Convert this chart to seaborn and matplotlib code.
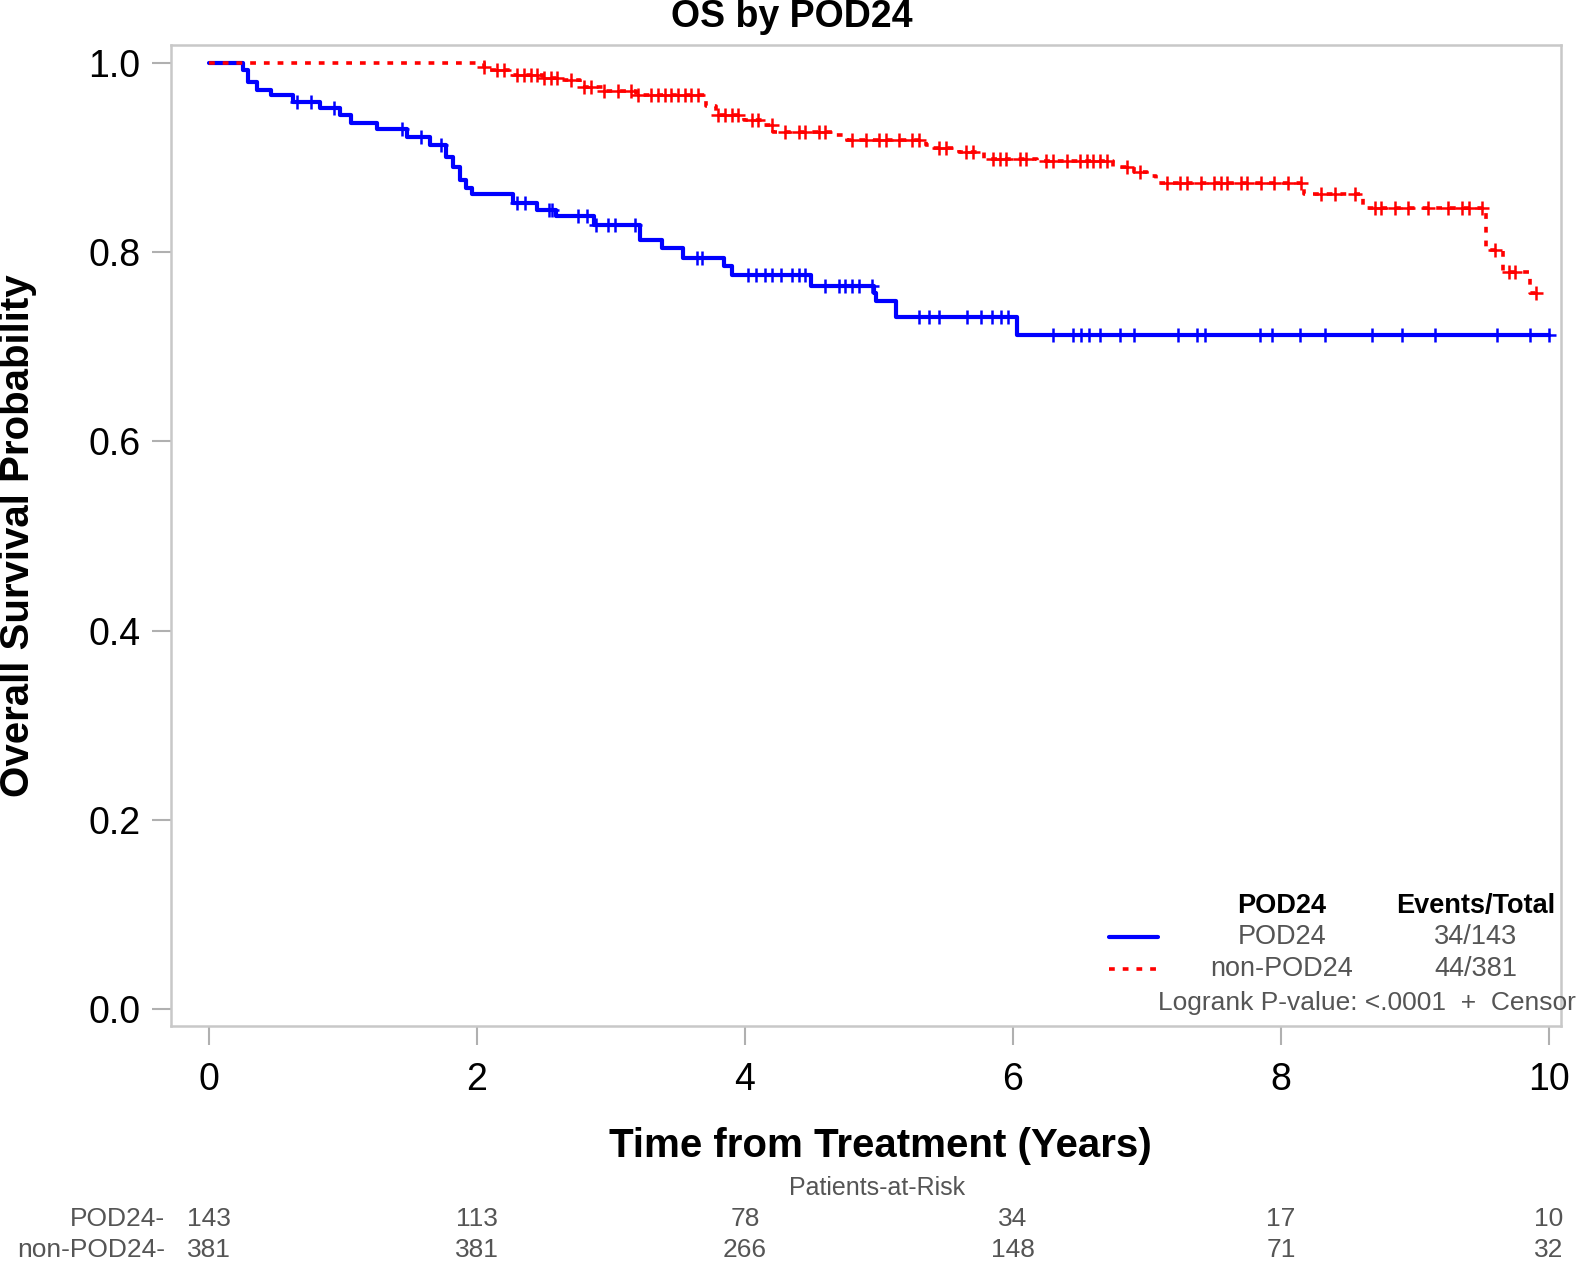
import numpy as np
import pandas as pd
import matplotlib
matplotlib.use("Agg")
import matplotlib.pyplot as plt
import matplotlib.transforms as mtransforms
import seaborn as sns

# ── Data ─────────────────────────────────────────────────────────────────────
groups = ["POD24", "non-POD24"]
events_total = ["34/143", "44/381"]

pod_event_t = [0.25, 0.29, 0.36, 0.46, 0.63, 0.83, 0.98, 1.06, 1.25, 1.48,
               1.65, 1.77, 1.82, 1.87, 1.92, 1.96, 2.27, 2.45, 2.59, 2.87,
               3.22, 3.38, 3.54, 3.84, 3.90, 4.49, 4.96, 4.98, 5.13, 6.03]
pod_surv = [0.993, 0.980, 0.971, 0.966, 0.959, 0.952, 0.945, 0.937, 0.930, 0.922,
            0.913, 0.901, 0.890, 0.876, 0.868, 0.861, 0.852, 0.845, 0.838, 0.829,
            0.813, 0.804, 0.794, 0.785, 0.776, 0.764, 0.757, 0.748, 0.732, 0.712]
pod_end = 10.0
pod_censor = [0.66, 0.76, 0.93, 1.44, 1.58, 1.73, 2.30, 2.36, 2.54, 2.56, 2.75,
              2.82, 2.89, 2.98, 3.03, 3.18, 3.64, 3.68, 4.02, 4.08, 4.15, 4.20,
              4.27, 4.35, 4.40, 4.45, 4.60, 4.70, 4.75, 4.80, 4.85, 4.95, 5.30,
              5.37, 5.45, 5.66, 5.76, 5.84, 5.91, 5.96, 6.30, 6.45, 6.51, 6.57,
              6.65, 6.80, 6.90, 7.23, 7.37, 7.43, 7.84, 7.93, 8.14, 8.33, 8.68,
              8.90, 9.15, 9.61, 9.86, 10.0]

non_event_t = [2.05, 2.10, 2.27, 2.49, 2.62, 2.77, 2.94, 3.19, 3.71, 3.78,
               3.99, 4.14, 4.21, 4.66, 4.76, 5.35, 5.40, 5.60, 5.78, 6.18,
               6.75, 6.90, 7.00, 7.07, 8.17, 8.61, 9.53, 9.66, 9.86]
non_surv = [0.996, 0.993, 0.987, 0.984, 0.982, 0.975, 0.970, 0.966, 0.954, 0.945,
            0.940, 0.934, 0.927, 0.924, 0.919, 0.913, 0.910, 0.906, 0.899, 0.896,
            0.890, 0.885, 0.880, 0.873, 0.861, 0.847, 0.802, 0.779, 0.757]
non_end = 9.92
non_censor = [2.05, 2.15, 2.20, 2.30, 2.35, 2.40, 2.45, 2.50, 2.55, 2.60, 2.70,
              2.80, 2.85, 2.95, 3.05, 3.15, 3.20, 3.30, 3.35, 3.40, 3.45, 3.50,
              3.55, 3.60, 3.65, 3.80, 3.85, 3.90, 3.95, 4.05, 4.10, 4.20, 4.30,
              4.40, 4.45, 4.55, 4.60, 4.80, 4.90, 5.00, 5.05, 5.15, 5.25, 5.30,
              5.45, 5.50, 5.65, 5.70, 5.85, 5.90, 5.95, 6.05, 6.10, 6.25, 6.30,
              6.40, 6.50, 6.55, 6.60, 6.65, 6.70, 6.85, 6.95, 7.15, 7.25, 7.30,
              7.40, 7.50, 7.55, 7.60, 7.70, 7.75, 7.85, 7.95, 8.05, 8.15, 8.30,
              8.40, 8.55, 8.70, 8.75, 8.85, 8.95, 9.10, 9.25, 9.35, 9.40, 9.50,
              9.60, 9.70, 9.75, 9.90]

risk_times = [0, 2, 4, 6, 8, 10]
pod_at_risk = [143, 113, 78, 34, 17, 10]
non_at_risk = [381, 381, 266, 148, 71, 32]


def step_frame(event_t, surv, end, name):
    t = [0.0] + list(event_t) + [end]
    s = [1.0] + list(surv) + [surv[-1]]
    return pd.DataFrame({"time": t, "surv": s, "group": name})


def censor_frame(event_t, surv, censor, name):
    t = np.array([0.0] + list(event_t))
    s = np.array([1.0] + list(surv))
    idx = np.searchsorted(t, censor, side="right") - 1
    return pd.DataFrame({"time": censor, "surv": s[idx], "group": name})


pod_df = step_frame(pod_event_t, pod_surv, pod_end, groups[0])
non_df = step_frame(non_event_t, non_surv, non_end, groups[1])
pod_c = censor_frame(pod_event_t, pod_surv, pod_censor, groups[0])
non_c = censor_frame(non_event_t, non_surv, non_censor, groups[1])

# ── Plot ─────────────────────────────────────────────────────────────────────
sns.set_style("ticks")
plt.rcParams["font.family"] = ["Liberation Sans", "DejaVu Sans"]
plt.rcParams["text.color"] = "black"

BLUE, RED, GRAY = "#0000ff", "#ff0000", "#555555"
DOTS = (0, (1.6, 2.2))

fig = plt.figure(figsize=(15.93, 12.62), dpi=100)
ax = fig.add_axes([171 / 1593, 1 - 1026 / 1262, 1390 / 1593, 981 / 1262])

sns.lineplot(data=pod_df, x="time", y="surv", color=BLUE, lw=3, sort=False,
             estimator=None, drawstyle="steps-post", ax=ax)
sns.scatterplot(data=pod_c, x="time", y="surv", color=BLUE, marker="+",
                s=110, linewidth=1.8, ax=ax, zorder=3)
sns.lineplot(data=non_df, x="time", y="surv", color=RED, lw=2.6, sort=False,
             estimator=None, drawstyle="steps-post", ls=DOTS, ax=ax)
sns.scatterplot(data=non_c, x="time", y="surv", color=RED, marker="+",
                s=110, linewidth=1.8, ax=ax, zorder=3)

ax.set_xlim(-0.284, 10.09)
ax.set_ylim(-0.018, 1.019)
ax.set_xticks(risk_times)
ax.set_yticks([0.0, 0.2, 0.4, 0.6, 0.8, 1.0])
ax.set_yticklabels(["0.0", "0.2", "0.4", "0.6", "0.8", "1.0"])
ax.tick_params(axis="both", colors="#b0b0b0", labelcolor="black", length=14,
               width=1.5, labelsize=27, pad=8)
ax.tick_params(axis="x", pad=12)
for sp in ax.spines.values():
    sp.set_color("#c8c8c8")
    sp.set_linewidth(1.8)
ax.set_xlabel("")
ax.set_ylabel("")

fig.text(792 / 1593, 1 - 17 / 1262, "OS by POD24", ha="center", va="center",
         fontsize=27, fontweight="bold")
fig.text(880 / 1593, 1 - 1146 / 1262, "Time from Treatment (Years)", ha="center",
         va="center", fontsize=29, fontweight="bold")
fig.text(18 / 1593, 1 - 536 / 1262, "Overall Survival Probability", ha="center",
         va="center", fontsize=29, fontweight="bold", rotation=90)


def fy(y):
    return 1 - y / 1262


# legend block inside axes (figure coords)
leg_fs = 19.5
fig.text(1282 / 1593, fy(906), "POD24", ha="center", va="center",
         fontsize=leg_fs, fontweight="bold")
fig.text(1476 / 1593, fy(906), "Events/Total", ha="center", va="center",
         fontsize=leg_fs, fontweight="bold")
for i, (name, et, col, ls) in enumerate(zip(groups, events_total, [BLUE, RED],
                                            ["-", DOTS])):
    y = fy(937 + 32 * i)
    fig.add_artist(plt.Line2D([1109 / 1593, 1158 / 1593], [y, y], color=col,
                              lw=3 if i == 0 else 2.6, ls=ls,
                              transform=fig.transFigure))
    fig.text(1282 / 1593, y, name, ha="center", va="center", fontsize=leg_fs,
             color=GRAY)
    fig.text(1476 / 1593, y, et, ha="center", va="center", fontsize=leg_fs,
             color=GRAY)
fig.text(1576 / 1593, fy(1003), "Logrank P-value: <.0001  +  Censor",
         ha="right", va="center", fontsize=19, color=GRAY)

# patients at risk table
trans = mtransforms.blended_transform_factory(ax.transData, fig.transFigure)
fig.text(877 / 1593, fy(1188), "Patients-at-Risk", ha="center", va="center",
         fontsize=18, color=GRAY)
for i, (name, counts) in enumerate(zip(groups, [pod_at_risk, non_at_risk])):
    y = fy(1219 + 31 * i)
    fig.text(165 / 1593, y, name + "-", ha="right", va="center", fontsize=19,
             color=GRAY)
    for t, n in zip(risk_times, counts):
        ax.text(t, y, str(n), transform=trans, ha="center", va="center",
                fontsize=19, color=GRAY, clip_on=False)

fig.savefig("out.png", dpi=100)
